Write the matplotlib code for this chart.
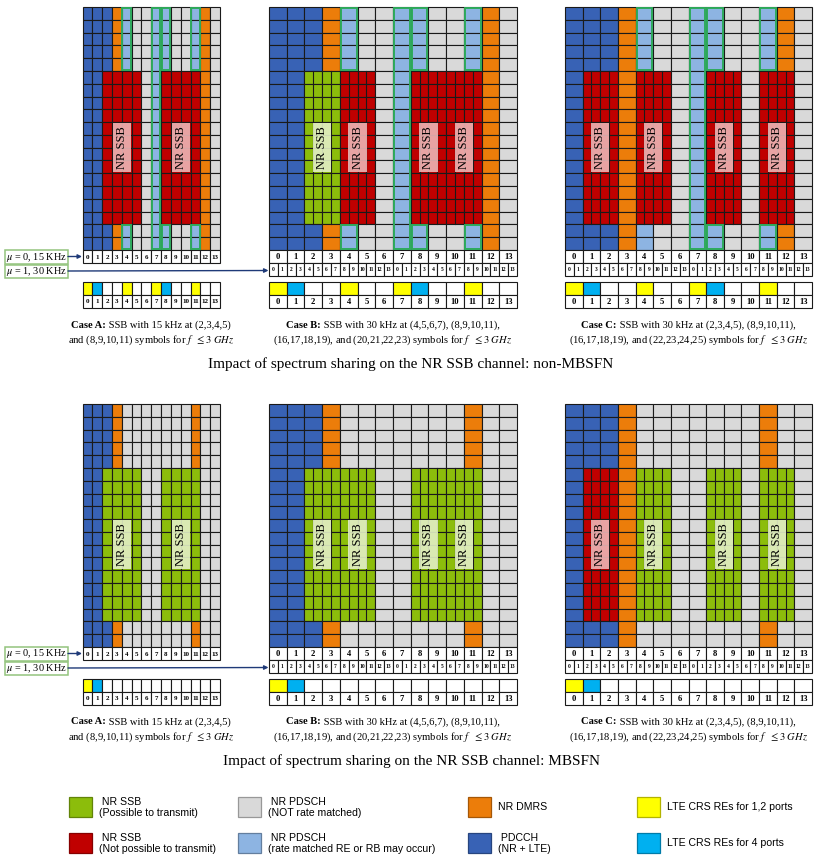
import matplotlib
matplotlib.use("Agg")
import matplotlib.pyplot as plt
from matplotlib.patches import Rectangle
from matplotlib.colors import to_rgb
import numpy as np

plt.rcParams['font.family'] = ['Liberation Serif', 'DejaVu Serif']
plt.rcParams['mathtext.fontset'] = 'stix'

W, H = 822, 861

# resource element codes
# P = PDCCH, D = NR DMRS, R = PDSCH rate matched (boxed), r = same w/o box,
# G = PDSCH not rate matched, X = SSB not possible, S = SSB possible,
# Y = CRS 1,2 ports, C = CRS 4 ports, W = empty
COLORS = {
    'P': '#3862b5', 'D': '#ec7d0a', 'R': '#8db4e2', 'G': '#d9d9d9',
    'X': '#c00000', 'S': '#8cbd0b', 'Y': '#ffff00', 'C': '#00b0f0',
    'W': '#ffffff',
}

symbols = list(range(14))
sub_symbols = list(range(14)) + list(range(14))   # 30 kHz symbols in 1 ms

# ---- non-MBSFN ----
a1_top = list("PPPDRGGRRGGRDG")
a1_mid = list("PPXXXXGRXXXXDG")
a1_bot = list("PPPDRGGRRGGRDG")

b1_top = list("PPPDRGGRRGGRDG")
b1_mid = list("PPSSXXGRXXXXDG")
b1_bot = list("PPPDRGGRRGGRDG")

c1_top = list("PPPDRGGRRGGRDG")
c1_mid = list("PXXDXXGRXXGXXG")
c1_bot = list("PPPDrGGRRGGRDG")

lte_non_mbsfn = list("YCWWYWWYCWWYWW")

# ---- MBSFN ----
a2_top = list("PPPDGGGGGGGDGG")
a2_mid = list("PPSSSSGGSSSSGG")
a2_bot = list("PPPDGGGGGGGDGG")

b2_top = list("PPPDGGGGGGGDGG")
b2_mid = list("PPSSSSGGSSSSGG")
b2_bot = list("PPPDGGGGGGGDGG")

c2_top = list("PPPDGGGGGGGDGG")
c2_mid = list("PXXDSSGGSSGSSG")
c2_bot = list("PPPDGGGGGGGDGG")

lte_mbsfn = list("YCWWWWWWWWWWWW")

# SSB blocks (first 15 kHz symbol, number of 15 kHz symbols)
ssb_a = [(2, 4), (8, 4)]
ssb_b = [(2, 2), (4, 2), (8, 2), (10, 2)]
ssb_c = [(1, 2), (4, 2), (8, 2), (11, 2)]

n_top, n_mid, n_bot = 5, 12, 2

captions = {
    'A': ("Case A:", " SSB with 15 kHz at (2,3,4,5)",
          r"and (8,9,10,11) symbols for $f\ \ \leq 3\ GHz$"),
    'B': ("Case B:", " SSB with 30 kHz at (4,5,6,7), (8,9,10,11),",
          r"(16,17,18,19), and (20,21,22,23) symbols for $f\ \ \leq 3\ GHz$"),
    'C': ("Case C:", " SSB with 30 kHz at (2,3,4,5), (8,9,10,11),",
          r"(16,17,18,19), and (22,23,24,25) symbols for $f\ \ \leq 3\ GHz$"),
}

legend_entries = [
    (" NR SSB\n(Possible to transmit)", 'S'),
    (" NR SSB\n(Not possible to transmit)", 'X'),
    (" NR PDSCH\n(NOT rate matched)", 'G'),
    (" NR PDSCH\n(rate matched RE or RB may occur)", 'R'),
    ("NR DMRS", 'D'),
    (" PDCCH\n(NR + LTE)", 'P'),
    ("LTE CRS REs for 1,2 ports", 'Y'),
    ("LTE CRS REs for 4 ports", 'C'),
]

EDGE = '#1a1a1a'
BOX = '#2eaa5c'
LW = 0.8

fig = plt.figure(figsize=(W / 100, H / 100), dpi=100)
bg = fig.add_axes([0, 0, 1, 1])
bg.set_xlim(0, W)
bg.set_ylim(H, 0)
bg.axis('off')


def px_axes(x0, y0, x1, y1):
    return fig.add_axes([x0 / W, 1 - y1 / H, (x1 - x0) / W, (y1 - y0) / H])


def draw_panel(ax, top, mid, bot, lte, blocks, scs):
    rows = [top] * n_top + [mid] * n_mid + [bot] * n_bot
    nrows = len(rows)
    for r, row in enumerate(rows):
        for c, code in enumerate(row):
            ax.add_patch(Rectangle((c, r), 1, 1, fc=COLORS[code.upper()],
                                   ec=EDGE, lw=LW, clip_on=False))
            if scs == 30 and code in 'XS':
                ax.plot([c + 0.5, c + 0.5], [r, r + 1], color=EDGE, lw=LW,
                        clip_on=False)
    # green frame around rate-matched runs
    for c in symbols:
        r = 0
        while r < nrows:
            if rows[r][c] == 'R':
                r0 = r
                while r < nrows and rows[r][c] == 'R':
                    r += 1
                ax.add_patch(Rectangle((c + 0.06, r0 + 0.04), 0.88, r - r0 - 0.08,
                                       fc='none', ec=BOX, lw=1.4, clip_on=False,
                                       zorder=3))
            else:
                r += 1
    # SSB labels
    for s, n in blocks:
        code = mid[s]
        fc = '#edb6b6' if code == 'X' else '#e3efc6'
        ax.text(s + n / 2, n_top + n_mid / 2, "NR SSB", rotation=90,
                ha='center', va='center', fontsize=9, zorder=4,
                bbox=dict(boxstyle='square,pad=0.25', fc=fc, ec='none', alpha=0.9))
    # symbol index row
    y = nrows
    fs = 5 if scs == 15 else 6.2
    for c in symbols:
        ax.add_patch(Rectangle((c, y), 1, 1, fc='white', ec=EDGE, lw=LW, clip_on=False))
        ax.text(c + 0.5, y + 0.55, str(c), ha='center', va='center', fontsize=fs,
                fontweight='bold')
    if scs == 30:
        y += 1
        for i, s in enumerate(sub_symbols):
            ax.add_patch(Rectangle((i * 0.5, y), 0.5, 1, fc='white', ec=EDGE, lw=LW,
                                   clip_on=False))
            ax.text(i * 0.5 + 0.25, y + 0.55, str(s), ha='center', va='center',
                    fontsize=4, fontweight='bold')
    # LTE CRS row
    y = nrows + 2.5
    for c, code in enumerate(lte):
        ax.add_patch(Rectangle((c, y), 1, 1, fc=COLORS[code], ec=EDGE, lw=LW,
                               clip_on=False))
        ax.add_patch(Rectangle((c, y + 1), 1, 1, fc='white', ec=EDGE, lw=LW,
                               clip_on=False))
        ax.text(c + 0.5, y + 1.55, str(c), ha='center', va='center', fontsize=fs,
                fontweight='bold')
    ax.set_xlim(0, 14)
    ax.set_ylim(nrows + 4.5, 0)
    ax.axis('off')


renderer = fig.canvas.get_renderer()


def caption(xc, y, key):
    bold, rest, line2 = captions[key]
    t1 = bg.text(0, y, bold, fontsize=7.6, fontweight='bold', va='center')
    t2 = bg.text(0, y, rest, fontsize=7.6, va='center')
    w1 = t1.get_window_extent(renderer).width
    w2 = t2.get_window_extent(renderer).width
    x0 = xc - (w1 + w2) / 2
    t1.set_x(x0)
    t2.set_x(x0 + w1)
    bg.text(xc, y + 15, line2, fontsize=7.6, ha='center', va='center')


panels_x = [(82.5, 220), (269, 517), (565, 812)]
blocks = [
    [(a1_top, a1_mid, a1_bot, lte_non_mbsfn), (b1_top, b1_mid, b1_bot, lte_non_mbsfn),
     (c1_top, c1_mid, c1_bot, lte_non_mbsfn)],
    [(a2_top, a2_mid, a2_bot, lte_mbsfn), (b2_top, b2_mid, b2_bot, lte_mbsfn),
     (c2_top, c2_mid, c2_bot, lte_mbsfn)],
]
titles = ["Impact of spectrum sharing on the NR SSB channel: non-MBSFN",
          "Impact of spectrum sharing on the NR SSB channel: MBSFN"]

row_h = (250 - 7) / 19.0
for k, dy in enumerate([0, 397]):
    y0 = 7 + dy
    y1 = y0 + row_h * 23.5
    for (x0, x1), data, ssb, scs, key in zip(panels_x, blocks[k], [ssb_a, ssb_b, ssb_c],
                                             [15, 30, 30], ['A', 'B', 'C']):
        ax = px_axes(x0, y0, x1, y1)
        draw_panel(ax, *data, ssb, scs)
        caption((x0 + x1) / 2, 325 + dy, key)
    # numerology boxes and arrows
    for j, txt in enumerate([r"$\mu$ = 0, 15 KHz", r"$\mu$ = 1, 30 KHz"]):
        yb = 250 + dy + j * 14.5
        bg.add_patch(Rectangle((5, yb), 63, 13.5, fc='white', ec='#93c47d', lw=1.1))
        bg.text(36.5, yb + 7, txt, fontsize=7.4, va='center', ha='center')
    bg.annotate('', xy=(82, 256.5 + dy), xytext=(68, 256.5 + dy),
                arrowprops=dict(arrowstyle='-|>', color='#1f3a78', lw=1.0,
                                mutation_scale=6, shrinkA=0, shrinkB=0))
    bg.annotate('', xy=(268.5, 270.5 + dy), xytext=(68, 271 + dy),
                arrowprops=dict(arrowstyle='-|>', color='#1f3a78', lw=1.0,
                                mutation_scale=6, shrinkA=0, shrinkB=0))
    bg.text(411, 364 + dy, titles[k], fontsize=11, ha='center', va='center')

# legend
leg_x = [69, 238, 468, 637]
leg_y = [797, 833]
for i, (label, code) in enumerate(legend_entries):
    x = leg_x[i // 2]
    y = leg_y[i % 2]
    fc = COLORS[code]
    ec = tuple(np.array(to_rgb(fc)) * 0.7)
    bg.add_patch(Rectangle((x, y), 23, 20, fc=fc, ec=ec, lw=0.9))
    bg.text(x + 30, y + 10.5, label, fontsize=7.6, ha='left', va='center',
            family=['Liberation Sans', 'DejaVu Sans'], linespacing=1.1)

fig.savefig("out.png", dpi=100)
